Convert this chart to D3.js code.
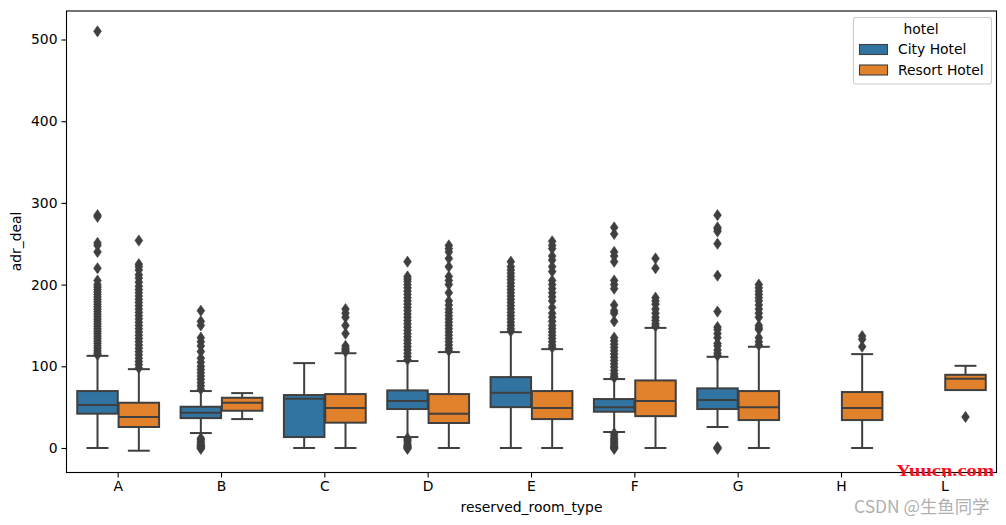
<!DOCTYPE html>
<html><head><meta charset="utf-8"><script src="https://cdn.jsdelivr.net/npm/d3@7"></script>
<style>html,body{margin:0;padding:0;background:#fff}svg{display:block}text{font-family:"DejaVu Sans",sans-serif;fill:#000}</style></head>
<body><div id="c"></div><script>
const categories=["A","B","C","D","E","F","G","H","L"];
const hotels=["City Hotel","Resort Hotel"];
const colors=["#3274a1","#e1812c"];
const yTicks=[0,100,200,300,400,500];
// box stats, in category order; null = no data
const cityQ1=[42,36.6,13.4,47.7,50,44.4,47.7,null,null];
const cityMed=[52.6,43.2,60.3,57.5,67.6,50,58.7,null,null];
const cityQ3=[69.7,50.5,64.8,70.5,86.8,59.9,73,null,null];
const cityLo=[0,18.3,0,13.4,0,19.6,25.7,null,null];
const cityHi=[112.8,69.7,103.9,106.4,141.8,84.4,111.6,null,null];
const resortQ1=[25.7,45.6,31,30.6,35.4,39,34.2,34.2,70.9];
const resortMed=[38,55.4,48.9,42,48.9,57.5,50,48.9,84.7];
const resortQ3=[55.4,61.5,66,66,69.7,82.7,69.7,68.5,89.6];
const resortLo=[-3.3,35.4,0,0,0,0,0,0,70.9];
const resortHi=[96.5,67.2,116,117.4,121,147,123.9,114.9,100.6];
// outliers
const outCityA=[510,285,283,251,248,240,220,205,200,197,194,191,188,185,182,179,176,173,170,167,164,161,158,155,152,149,146,143,140,137,134,131,128,125,122,119,116,114];
const outResortA=[254,225,222,218,212,208,203,198,194,190,186,182,178,174,170,166,162,158,154,150,146,142,138,134,130,126,122,118,114,110,106,102,98];
const outCityB=[168,155,150,135,130,125,118,110,105,100,96,92,88,84,80,76,72,12,10,8,6,4,3,2,1,0,-1];
const outResortB=[];
const outCityC=[];
const outResortC=[170,165,160,150,140,125,122,120,118];
const outCityD=[228,210,207,204,200,196,192,188,184,180,176,172,168,164,160,156,152,148,144,140,136,132,128,124,120,116,112,108,12,10,8,5,3,2,1,0,-1];
const outResortD=[248,244,240,232,222,210,205,200,190,180,175,170,166,162,158,154,150,146,142,138,134,130,126,122,119];
const outCityE=[228,222,218,214,210,206,202,198,194,190,186,182,178,174,170,166,162,158,154,150,146,143];
const outResortE=[253,248,244,235,230,222,216,205,200,195,190,185,180,172,165,160,155,150,146,142,138,134,130,126,123];
const outCityF=[270,262,240,235,228,205,200,195,175,168,165,155,135,131,127,123,119,115,111,107,103,99,95,91,88,86,18,15,12,10,8,6,4,2,1,0,-1];
const outResortF=[232,220,184,180,176,170,165,160,156,152,149];
const outCityG=[285,270,268,265,250,211,167,148,145,140,135,128,125,120,116,113,1,0,-1];
const outResortG=[200,196,192,188,184,180,175,170,165,160,150,147,145,135,130,126];
const outCityH=[];
const outResortH=[137,133,124];
const outCityL=[];
const outResortL=[38];
const outCity=[outCityA,outCityB,outCityC,outCityD,outCityE,outCityF,outCityG,outCityH,outCityL];
const outResort=[outResortA,outResortB,outResortC,outResortD,outResortE,outResortF,outResortG,outResortH,outResortL];

const W=1006,H=525,L=66.5,R=996.5,T=11,B=472.5,gray="#3f3f3f";
const svg=d3.select("#c").append("svg").attr("width",W).attr("height",H);
const x=d3.scaleBand().domain(categories).range([L,R]).paddingInner(0).paddingOuter(0);
const y=d3.scaleLinear().domain([0,500]).range([448,39.5]);
const hue=d3.scaleBand().domain(hotels).range([0,x.bandwidth()*0.8]);
const offset=x.bandwidth()*0.1;

function drawSeries(i,q1,med,q3,lo,hi,outs){
  const g=svg.append("g");
  const bw=hue.bandwidth()*0.98, cap=hue.bandwidth()*0.53;
  categories.forEach((c,k)=>{
    const cx=x(c)+offset+hue(hotels[i])+hue.bandwidth()/2;
    const pth=d3.symbol().type({draw(ctx){ctx.moveTo(0,-5.6);ctx.lineTo(3.9,0);ctx.lineTo(0,5.6);ctx.lineTo(-3.9,0);ctx.closePath();}});
    outs[k].forEach(v=>g.append("path").attr("d",pth()).attr("transform",`translate(${cx},${y(v)})`).attr("fill",gray).attr("stroke",gray).attr("stroke-width",.6));
    if(q1[k]===null)return;
    const line=(x1,x2,y1,y2)=>g.append("line").attr("x1",x1).attr("x2",x2).attr("y1",y1).attr("y2",y2).attr("stroke",gray).attr("stroke-width",2);
    if(hi[k]>q3[k]){line(cx,cx,y(q3[k]),y(hi[k]));line(cx-cap/2,cx+cap/2,y(hi[k]),y(hi[k]));}
    if(lo[k]<q1[k]){line(cx,cx,y(q1[k]),y(lo[k]));line(cx-cap/2,cx+cap/2,y(lo[k]),y(lo[k]));}
    g.append("rect").attr("x",cx-bw/2).attr("width",bw).attr("y",y(q3[k])).attr("height",y(q1[k])-y(q3[k]))
      .attr("fill",colors[i]).attr("stroke",gray).attr("stroke-width",2);
    line(cx-bw/2,cx+bw/2,y(med[k]),y(med[k]));
  });
}
drawSeries(0,cityQ1,cityMed,cityQ3,cityLo,cityHi,outCity);
drawSeries(1,resortQ1,resortMed,resortQ3,resortLo,resortHi,outResort);

const fs=13.9;
const xa=svg.append("g").attr("transform",`translate(0,${B})`).call(d3.axisBottom(x).tickSize(5).tickPadding(4));
const ya=svg.append("g").attr("transform",`translate(${L},0)`).call(d3.axisLeft(y).tickValues(yTicks).tickSize(5).tickPadding(4));
[xa,ya].forEach(a=>{a.select(".domain").remove();a.selectAll("line").attr("stroke","#000").attr("stroke-width",1.1);a.selectAll("text").style("font-size",fs+"px").attr("font-family",null);});
svg.append("rect").attr("x",L).attr("y",T).attr("width",R-L).attr("height",B-T).attr("fill","none").attr("stroke","#000").attr("stroke-width",1.1);
svg.append("text").attr("x",(L+R)/2).attr("y",512).attr("text-anchor","middle").style("font-size",fs+"px").text("reserved_room_type");
svg.append("text").attr("transform",`translate(21,241.5) rotate(-90)`).attr("text-anchor","middle").style("font-size",fs+"px").text("adr_deal");

// legend
svg.append("rect").attr("x",853.5).attr("y",17.5).attr("width",138).attr("height",66.5).attr("rx",2.5).attr("fill","#fff").attr("fill-opacity",.8).attr("stroke","#ccc").attr("stroke-width",1.1);
svg.append("text").attr("x",921).attr("y",34).attr("text-anchor","middle").style("font-size",fs+"px").text("hotel");
hotels.forEach((h,i)=>{
  const yy=44.5+i*20.5;
  svg.append("rect").attr("x",859.5).attr("y",yy).attr("width",28).attr("height",10).attr("fill",colors[i]).attr("stroke",gray).attr("stroke-width",1.1);
  svg.append("text").attr("x",898).attr("y",yy+9.7).style("font-size",fs+"px").text(h);
});
// watermarks
svg.append("text").attr("x",896).attr("y",476).attr("textLength",98).attr("lengthAdjust","spacingAndGlyphs").style("font-size","17.5px").style("font-family","'Liberation Serif',serif").style("font-weight","bold").style("fill","#f5101f").text("Yuucn.com");
svg.append("text").attr("x",854).attr("y",513).style("font-size","17.4px").style("font-family","'Noto Sans CJK SC','Noto Sans',sans-serif").style("fill","#b0b0b0").text("CSDN @生鱼同学");
</script></body></html>
